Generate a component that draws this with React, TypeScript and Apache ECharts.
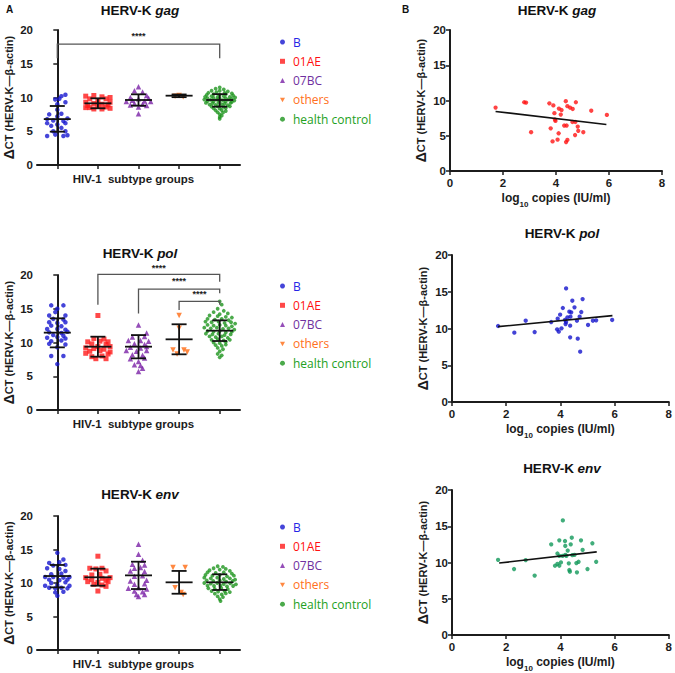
import React, { useEffect, useRef } from "react";
import * as echarts from "echarts";

// ---------- categories / legend ----------
const groups = ["B", "01AE", "07BC", "others", "health control"];
const groupColors = ["#1717cf", "#ff1a1a", "#7a22a6", "#ff6a12", "#1e951e"];
const legendColors = ["#2424e6", "#ff1010", "#7030a0", "#ff7020", "#22a022"];
const groupSymbols = ["circle", "rect", "triangle", "path://M0,0L10,0L5,9Z", "circle"];
const groupSizes = [4.5, 5, 5.5, 5.5, 3.8];

// ---------- HERV-K gag (dot plot: [offset within group, value]) ----------
const gagB = [[0.2,10.4],[0.1,10.2],[0.05,9.8],[-0.05,9.7],[0.2,9.3],[0,9.0],[0,8.2],[-0.2,7.5],[0.1,7.6],[0,7.2],[-0.25,6.8],[-0.1,6.6],[0.15,6.5],[0.25,6.9],[-0.25,6.2],[0,6.0],[0.2,6.2],[-0.15,5.8],[0.1,5.5],[-0.1,5.0],[0.2,5.0],[-0.25,4.3],[-0.05,4.5],[0.15,4.3],[0.25,4.4]];
const gagAE = [[-0.3,10.2],[-0.1,10.3],[0.1,10.1],[0.3,10.0],[-0.2,9.8],[0.2,9.8],[0,9.5],[-0.3,9.3],[0.3,9.3],[-0.1,9.1],[0.1,9.0],[-0.25,8.8],[0.25,8.9],[0,8.7],[-0.3,8.5],[0.3,8.4],[-0.1,8.3],[0.1,8.3],[-0.2,8.5],[0.2,8.6]];
const gagBC = [[0,11.6],[-0.1,11.0],[0.1,10.8],[0.2,10.3],[-0.2,10.0],[0.25,9.9],[0,9.8],[-0.15,9.6],[0.15,9.5],[-0.3,9.4],[0.3,9.4],[-0.1,9.1],[0.1,9.0],[-0.2,8.9],[0.2,8.8],[0,8.6],[0,7.6]];
const gagOthers = [[-0.1,10.2],[0,10.3],[0.1,10.1]];
const gagHC = [[0,11.5],[-0.1,11.3],[0.1,11.2],[-0.2,11.0],[0,11.0],[0.2,10.9],[-0.28,10.7],[-0.08,10.8],[0.12,10.7],[0.3,10.6],[-0.32,10.4],[-0.15,10.5],[0,10.4],[0.15,10.5],[0.33,10.3],[-0.36,10.1],[-0.2,10.2],[-0.05,10.1],[0.1,10.2],[0.25,10.1],[0.38,10.0],[-0.3,9.9],[-0.15,9.95],[0,9.85],[0.15,9.9],[0.3,9.8],[-0.38,9.7],[-0.22,9.65],[-0.07,9.7],[0.08,9.6],[0.22,9.7],[0.36,9.55],[-0.3,9.45],[-0.15,9.4],[0,9.5],[0.15,9.4],[0.3,9.35],[-0.34,9.2],[-0.18,9.15],[-0.03,9.25],[0.12,9.1],[0.27,9.2],[-0.25,8.95],[-0.1,8.9],[0.05,9.0],[0.2,8.85],[-0.2,8.65],[-0.05,8.7],[0.1,8.6],[0.25,8.7],[-0.15,8.4],[0,8.35],[0.15,8.45],[-0.1,8.1],[0.05,8.15],[0.15,8.0],[-0.05,7.8],[0.08,7.75],[0,7.5],[0.05,7.3],[0,7.1],[0,6.85]];
const gagMean = [6.8, 9.14, 9.63, 10.27, 9.63];
const gagLow = [4.94, 8.4, 8.79, 10.05, 8.64];
const gagHigh = [8.74, 9.88, 10.47, 10.45, 10.5];
// [from group, to group, left leg bottom, bar top, right leg bottom, stars]
const gagBrackets = [[0, 4, 15.8, 17.9, 15.8, 19.1]];

// ---------- HERV-K pol ----------
const polB = [[-0.15,15.5],[0.15,15.5],[0,15.0],[-0.05,14.5],[-0.2,14.0],[0.2,14.0],[-0.1,13.5],[0.15,13.4],[-0.2,13.0],[0,12.9],[0.2,13.0],[-0.15,12.5],[0.1,12.4],[-0.25,12.0],[0,12.0],[0.2,11.9],[-0.2,11.5],[0.1,11.4],[0.25,11.6],[-0.1,11.1],[0.15,11.0],[-0.25,10.7],[0,10.8],[0.2,10.6],[-0.15,10.2],[0.1,10.3],[-0.2,9.8],[0.2,9.7],[0,9.3],[-0.15,8.0],[0.15,8.0],[0,6.8]];
const polAE = [[0,14.0],[-0.1,10.6],[0.15,10.5],[-0.25,10.1],[0.05,10.2],[0.25,10.1],[-0.15,9.8],[0.2,9.7],[0,9.4],[0.3,9.4],[-0.3,9.2],[-0.1,9.1],[0.15,9.0],[-0.2,8.7],[0.05,8.8],[0.3,8.6],[-0.3,8.4],[0.25,8.3],[-0.15,7.9],[0.1,8.0],[-0.05,7.6],[0.2,7.6]];
const polBC = [[0,12.6],[0.2,11.4],[-0.15,10.8],[0.15,10.9],[-0.25,10.3],[0.05,10.3],[0.25,10.2],[-0.1,9.8],[0.15,9.7],[-0.2,9.3],[0.05,9.2],[0.2,9.4],[-0.3,8.8],[-0.05,8.7],[0.2,8.8],[-0.15,8.2],[0.1,8.1],[-0.2,7.6],[0.15,7.7],[0,7.2],[-0.1,6.7],[0.05,6.6],[0.1,6.2],[0,5.7]];
const polOthers = [[0,14.0],[0,12.1],[-0.15,8.9],[0.12,8.9],[0.2,8.6],[-0.05,8.3]];
const polHC = [[0,16.1],[0.05,15.6],[-0.05,15.0],[0.1,14.7],[-0.15,14.5],[0.2,14.3],[0,14.2],[-0.25,14.0],[-0.05,13.9],[0.15,13.8],[0.3,13.7],[-0.3,13.5],[-0.12,13.4],[0.05,13.5],[0.22,13.3],[-0.35,13.1],[-0.2,13.0],[-0.03,13.1],[0.12,12.9],[0.28,13.0],[0.38,12.8],[-0.3,12.6],[-0.15,12.5],[0,12.6],[0.15,12.5],[0.3,12.4],[-0.38,12.2],[-0.22,12.1],[-0.07,12.2],[0.08,12.0],[0.22,12.1],[0.36,11.9],[-0.3,11.7],[-0.15,11.6],[0,11.7],[0.15,11.5],[0.3,11.6],[-0.34,11.3],[-0.18,11.2],[-0.03,11.3],[0.12,11.1],[0.27,11.2],[-0.25,10.9],[-0.1,10.8],[0.05,10.9],[0.2,10.7],[-0.2,10.4],[-0.05,10.5],[0.1,10.3],[0.25,10.4],[-0.15,10.0],[0,9.9],[0.15,10.1],[-0.1,9.6],[0.05,9.5],[0.15,9.7],[-0.05,9.2],[0.08,9.0],[0,8.7],[-0.05,8.3],[0.05,8.1],[0,7.8]];
const polMean = [11.46, 9.38, 9.38, 10.47, 11.75];
const polLow = [9.28, 7.9, 7.65, 8.25, 10.22];
const polHigh = [13.58, 10.86, 11.1, 12.7, 13.28];
const polBrackets = [[1, 4, 15.6, 20.1, 19.0, 21.1], [2, 4, 14.3, 17.9, 17.3, 19.1], [3, 4, 14.8, 16.1, 15.6, 17.2]];

// ---------- HERV-K env ----------
const envB = [[0,14.5],[0.15,13.5],[-0.2,13.0],[0.05,13.1],[-0.1,12.6],[0.2,12.7],[-0.25,12.2],[0.05,12.1],[0.2,11.8],[-0.15,11.3],[0.1,11.4],[-0.3,10.9],[-0.1,10.9],[0.15,10.8],[0.3,10.9],[-0.2,10.5],[0.05,10.4],[0.25,10.5],[-0.15,10.0],[0.2,10.1],[-0.3,9.6],[0,9.7],[0.3,9.6],[-0.2,9.3],[-0.05,9.2],[0.1,9.3],[0.25,9.2],[-0.05,8.6],[0.15,8.7],[0,8.1]];
const envAE = [[0,14.0],[-0.2,12.2],[-0.05,12.1],[0.1,12.2],[0.2,11.8],[-0.15,11.2],[0.05,11.3],[-0.3,10.8],[0.1,10.7],[0.3,10.8],[-0.15,10.5],[0.2,10.4],[-0.25,10.2],[0,10.1],[0.25,10.2],[-0.1,9.8],[0.1,9.7],[0.2,9.5],[0,8.8]];
const envBC = [[0,15.8],[0,14.3],[0.1,13.4],[-0.15,12.8],[0.15,12.7],[-0.1,12.2],[0.05,12.3],[-0.2,11.8],[0.15,11.7],[-0.1,11.0],[0.1,11.1],[-0.2,10.3],[0.2,10.4],[-0.1,9.8],[0.15,9.9],[-0.25,9.2],[0,9.3],[0.2,9.1],[-0.1,8.8],[0.1,8.7],[-0.05,8.3],[0.15,8.3],[0,8.0]];
const envOthers = [[-0.15,12.3],[0.15,12.3],[-0.1,9.3],[0.05,8.6],[0.1,8.3]];
const envHC = [[-0.05,12.5],[0.08,12.4],[-0.15,12.2],[0.15,12.1],[-0.25,11.9],[0,12.0],[0.25,11.8],[-0.3,11.6],[-0.1,11.5],[0.1,11.6],[0.3,11.4],[-0.35,11.2],[-0.18,11.1],[0,11.2],[0.18,11.0],[0.35,11.1],[-0.38,10.8],[-0.22,10.7],[-0.06,10.8],[0.1,10.6],[0.25,10.7],[0.38,10.5],[-0.32,10.4],[-0.16,10.3],[0,10.4],[0.16,10.2],[0.32,10.3],[-0.38,10.0],[-0.22,9.9],[-0.06,10.0],[0.1,9.85],[0.26,9.95],[0.4,9.8],[-0.3,9.6],[-0.14,9.55],[0.02,9.6],[0.18,9.5],[0.33,9.55],[-0.28,9.2],[-0.12,9.1],[0.04,9.25],[0.2,9.1],[-0.2,8.8],[-0.04,8.7],[0.12,8.8],[0.25,8.65],[-0.12,8.4],[0.05,8.3],[0.15,8.45],[-0.05,8.0],[0.08,7.9],[0,7.6],[0.02,7.3]];
const envMean = [11.04, 10.85, 11.14, 10.1, 10.1];
const envLow = [9.35, 9.6, 9.1, 8.4, 8.96];
const envHigh = [12.69, 12.14, 13.18, 11.8, 11.3];
const envBrackets: number[][] = [];

// ---------- panel B: [log10 copies, ΔCT] ----------
const corrGag = [[1.72,9.0],[2.80,9.75],[2.87,9.7],[3.06,5.5],[3.75,9.6],[3.90,9.3],[3.80,6.05],[3.87,4.2],[3.94,8.2],[3.96,7.3],[3.98,7.1],[4.06,4.45],[4.10,5.35],[4.11,8.85],[4.21,8.65],[4.18,8.0],[4.37,9.9],[4.31,6.45],[4.40,6.45],[4.43,9.2],[4.53,9.0],[4.63,8.8],[4.38,4.1],[4.43,4.4],[4.62,6.95],[4.73,6.95],[4.75,9.75],[4.82,6.3],[4.84,5.7],[4.72,5.1],[5.03,5.5],[5.33,8.55],[5.92,7.95]];
const corrPol = [[1.70,10.34],[2.30,9.43],[2.72,11.06],[3.05,9.52],[3.66,10.88],[3.90,11.34],[3.88,9.89],[3.94,9.57],[3.99,11.88],[4.09,12.79],[4.04,10.02],[4.17,11.16],[4.21,10.88],[4.19,10.61],[4.26,11.52],[4.33,12.29],[4.40,12.2],[4.37,11.61],[4.36,10.39],[4.36,8.8],[4.44,13.78],[4.52,12.88],[4.61,11.06],[4.64,8.62],[4.71,11.61],[4.77,12.24],[4.73,6.85],[5.02,10.48],[5.20,11.06],[5.32,11.11],[5.91,11.16],[4.82,14.0],[4.21,15.45]];
const corrEnv = [[1.70,10.37],[2.29,9.1],[2.72,10.33],[3.05,8.19],[3.66,12.5],[3.89,11.24],[3.96,10.91],[3.80,9.55],[3.89,9.82],[3.96,9.55],[3.96,13.06],[4.02,10.01],[4.08,10.91],[4.18,11.05],[4.17,12.96],[4.18,12.28],[4.27,11.65],[4.22,10.91],[4.31,9.88],[4.33,8.96],[4.35,8.73],[4.38,12.5],[4.42,13.42],[4.44,11.01],[4.52,11.05],[4.59,9.92],[4.67,10.1],[4.61,8.64],[4.76,13.06],[4.82,11.74],[5.00,9.1],[5.18,12.65],[5.32,10.1],[4.09,15.8]];
const fitGag = [[1.72,8.45],[5.9,6.6]];
const fitPol = [[1.70,10.25],[5.92,11.75]];
const fitEnv = [[1.74,9.92],[5.34,11.46]];

const yTicks = { min: 0, max: 20, interval: 5 };
const xTicksB = { min: 0, max: 8, interval: 2 };

const FONT = "'Liberation Sans', Arial, sans-serif";
const INK = "#1c1c1c";

const leftPanels = [
  { gene: "gag", grid: { left: 37, top: 30, width: 203, height: 135 }, pts: [gagB, gagAE, gagBC, gagOthers, gagHC], mean: gagMean, low: gagLow, high: gagHigh, brackets: gagBrackets, legendTop: 31, titleY: 10 },
  { gene: "pol", grid: { left: 37, top: 275, width: 203, height: 135 }, pts: [polB, polAE, polBC, polOthers, polHC], mean: polMean, low: polLow, high: polHigh, brackets: polBrackets, legendTop: 275, titleY: 253 },
  { gene: "env", grid: { left: 37, top: 516, width: 203, height: 134 }, pts: [envB, envAE, envBC, envOthers, envHC], mean: envMean, low: envLow, high: envHigh, brackets: envBrackets, legendTop: 516, titleY: 494 },
];
const rightPanels = [
  { gene: "gag", grid: { left: 450, top: 30, width: 212, height: 141 }, pts: corrGag, fit: fitGag, color: "#ff1414", titleX: 557, titleY: 10 },
  { gene: "pol", grid: { left: 452, top: 255, width: 218, height: 147 }, pts: corrPol, fit: fitPol, color: "#1414cc", titleX: 562, titleY: 233 },
  { gene: "env", grid: { left: 452, top: 490, width: 218, height: 147 }, pts: corrEnv, fit: fitEnv, color: "#12985a", titleX: 562, titleY: 468 },
];

const yName = "{d|Δ}{t|CT (HERV-K—β-actin)}";
const yNameStyle = {
  rich: {
    d: { fontSize: 14, fontWeight: "bold", color: INK, fontFamily: FONT },
    t: { fontSize: 11, fontWeight: "bold", color: INK, fontFamily: FONT },
  },
};

function yAxisFor(gridIndex: number, gap: number) {
  return {
    gridIndex, type: "value", ...yTicks,
    axisLine: { show: true, lineStyle: { color: INK, width: 2 } },
    axisTick: { show: true, length: 4, lineStyle: { color: INK, width: 1.5 } },
    axisLabel: { fontFamily: FONT, fontWeight: "bold", fontSize: 11.5, color: INK, margin: 4 },
    splitLine: { show: false },
    name: yName, nameLocation: "middle", nameGap: gap, nameRotate: 90,
    nameTextStyle: yNameStyle,
  };
}

function titleText(x: number, y: number, gene: string) {
  return {
    type: "text", x, y, z: 100,
    style: {
      text: `{a|HERV-K }{b|${gene}}`,
      align: "center", verticalAlign: "middle",
      rich: {
        a: { fontFamily: FONT, fontWeight: "bold", fontSize: 13.5, fill: "#111" },
        b: { fontFamily: FONT, fontWeight: "bold", fontStyle: "italic", fontSize: 13.5, fill: "#111" },
      },
    },
  };
}

function buildOption() {
  const grids: any[] = [];
  const xAxes: any[] = [];
  const yAxes: any[] = [];
  const series: any[] = [];
  const legends: any[] = [];
  const graphics: any[] = [];

  leftPanels.forEach((p, gi) => {
    grids.push({ ...p.grid });
    xAxes.push({
      gridIndex: gi, type: "category", data: groups, boundaryGap: true,
      axisLine: { show: true, lineStyle: { color: INK, width: 2 } },
      axisTick: { show: true, alignWithLabel: true, length: 4, interval: 0, lineStyle: { color: INK, width: 1.5 } },
      axisLabel: { show: false },
      name: "HIV-1  subtype groups", nameLocation: "middle", nameGap: 8,
      nameTextStyle: { fontFamily: FONT, fontWeight: "bold", fontSize: 11.5, color: INK, verticalAlign: "top", padding: [0, 10, 0, 0] },
    });
    const valIdx = xAxes.length;
    xAxes.push({ gridIndex: gi, type: "value", min: -0.5, max: 4.5, show: false, splitLine: { show: false } });
    yAxes.push(yAxisFor(gi, 20));
    const yIdx = yAxes.length - 1;

    groups.forEach((g, k) => {
      series.push({
        type: "scatter", name: g, xAxisIndex: valIdx, yAxisIndex: yIdx,
        symbol: groupSymbols[k], symbolSize: groupSizes[k],
        itemStyle: { color: groupColors[k] },
        data: p.pts[k].map(([dx, v]) => [k + dx, v]),
        z: 2,
      });
    });
    series.push({
      type: "custom", name: "sd-" + p.gene, xAxisIndex: valIdx, yAxisIndex: yIdx, z: 5,
      data: groups.map((_, k) => [k, p.mean[k], p.low[k], p.high[k]]),
      renderItem: (params: any, api: any) => {
        const x = api.value(0);
        const pm = api.coord([x, api.value(1)]);
        const pl = api.coord([x, api.value(2)]);
        const ph = api.coord([x, api.value(3)]);
        const style = { stroke: "#111", lineWidth: 1.8 };
        const mw = 13.5, cw = 7.5;
        return {
          type: "group",
          children: [
            { type: "line", shape: { x1: pm[0] - mw, y1: pm[1], x2: pm[0] + mw, y2: pm[1] }, style },
            { type: "line", shape: { x1: pl[0], y1: pl[1], x2: ph[0], y2: ph[1] }, style },
            { type: "line", shape: { x1: pl[0] - cw, y1: pl[1], x2: pl[0] + cw, y2: pl[1] }, style },
            { type: "line", shape: { x1: ph[0] - cw, y1: ph[1], x2: ph[0] + cw, y2: ph[1] }, style },
          ],
        };
      },
    });
    if (p.brackets.length) {
      series.push({
        type: "custom", name: "sig-" + p.gene, xAxisIndex: valIdx, yAxisIndex: yIdx, z: 6, clip: false,
        data: p.brackets,
        renderItem: (params: any, api: any) => {
          const x1 = api.value(0), x2 = api.value(1);
          const a = api.coord([x1, api.value(2)]);
          const b = api.coord([x1, api.value(3)]);
          const c = api.coord([x2, api.value(3)]);
          const d = api.coord([x2, api.value(4)]);
          const s = api.coord([(x1 + x2) / 2, api.value(5)]);
          return {
            type: "group",
            children: [
              { type: "polyline", shape: { points: [a, b, c, d] }, style: { stroke: "#555", lineWidth: 1.3, fill: "none" } },
              { type: "text", x: s[0], y: s[1], style: { text: "****", align: "center", verticalAlign: "middle", fontFamily: FONT, fontWeight: "bold", fontSize: 9, fill: "#222" } },
            ],
          };
        },
      });
    }
    legends.push({
      orient: "vertical", left: 275, top: p.legendTop, itemWidth: 5, itemHeight: 5, itemGap: 7.3,
      selectedMode: false,
      data: groups.map((g, k) => ({ name: g, icon: groupSymbols[k], itemStyle: { color: groupColors[k] }, textStyle: { color: legendColors[k] } })),
      textStyle: { fontFamily: "'Open Sans', sans-serif", fontSize: 12, padding: [0, 0, 0, 3] },
    });
    graphics.push(titleText(140, p.titleY, p.gene));
  });

  rightPanels.forEach((p, j) => {
    const gi = leftPanels.length + j;
    grids.push({ ...p.grid });
    const xIdx = xAxes.length;
    xAxes.push({
      gridIndex: gi, type: "value", ...xTicksB,
      axisLine: { show: true, lineStyle: { color: INK, width: 2 } },
      axisTick: { show: true, length: 4, lineStyle: { color: INK, width: 1.5 } },
      axisLabel: { fontFamily: FONT, fontWeight: "bold", fontSize: 11.5, color: INK, margin: 6 },
      splitLine: { show: false },
      name: "{a|log}{s|10}{a| copies (IU/ml)}", nameLocation: "middle", nameGap: 21,
      nameTextStyle: {
        verticalAlign: "top",
        rich: {
          a: { fontFamily: FONT, fontWeight: "bold", fontSize: 12, color: INK, lineHeight: 16, verticalAlign: "top" },
          s: { fontFamily: FONT, fontWeight: "bold", fontSize: 8, color: INK, lineHeight: 9, verticalAlign: "bottom" },
        },
      },
    });
    yAxes.push(yAxisFor(gi, 22));
    const yIdx = yAxes.length - 1;
    series.push({
      type: "scatter", name: "corr-" + p.gene, xAxisIndex: xIdx, yAxisIndex: yIdx,
      symbol: "circle", symbolSize: 4.3, itemStyle: { color: p.color }, data: p.pts, z: 2,
    });
    series.push({
      type: "line", name: "fit-" + p.gene, xAxisIndex: xIdx, yAxisIndex: yIdx,
      data: p.fit, symbol: "none", lineStyle: { color: "#111", width: 1.6 }, z: 4,
    });
    graphics.push(titleText(p.titleX, p.titleY, p.gene));
  });

  graphics.push({ type: "text", x: 9.5, y: 9, style: { text: "A", align: "center", verticalAlign: "middle", fontFamily: FONT, fontWeight: "bold", fontSize: 10, fill: "#111" } });
  graphics.push({ type: "text", x: 405.5, y: 9, style: { text: "B", align: "center", verticalAlign: "middle", fontFamily: FONT, fontWeight: "bold", fontSize: 10, fill: "#111" } });

  return {
    animation: false,
    backgroundColor: "#ffffff",
    grid: grids,
    xAxis: xAxes,
    yAxis: yAxes,
    legend: legends,
    series,
    graphic: graphics,
  };
}

export default function App() {
  const ref = useRef<HTMLDivElement>(null);
  useEffect(() => {
    document.body.style.margin = "0";
    if (!ref.current) return;
    const chart = echarts.init(ref.current, undefined, { renderer: "svg" });
    chart.setOption(buildOption() as any);
    return () => chart.dispose();
  }, []);
  return <div ref={ref} style={{ width: 675, height: 673 }} />;
}
